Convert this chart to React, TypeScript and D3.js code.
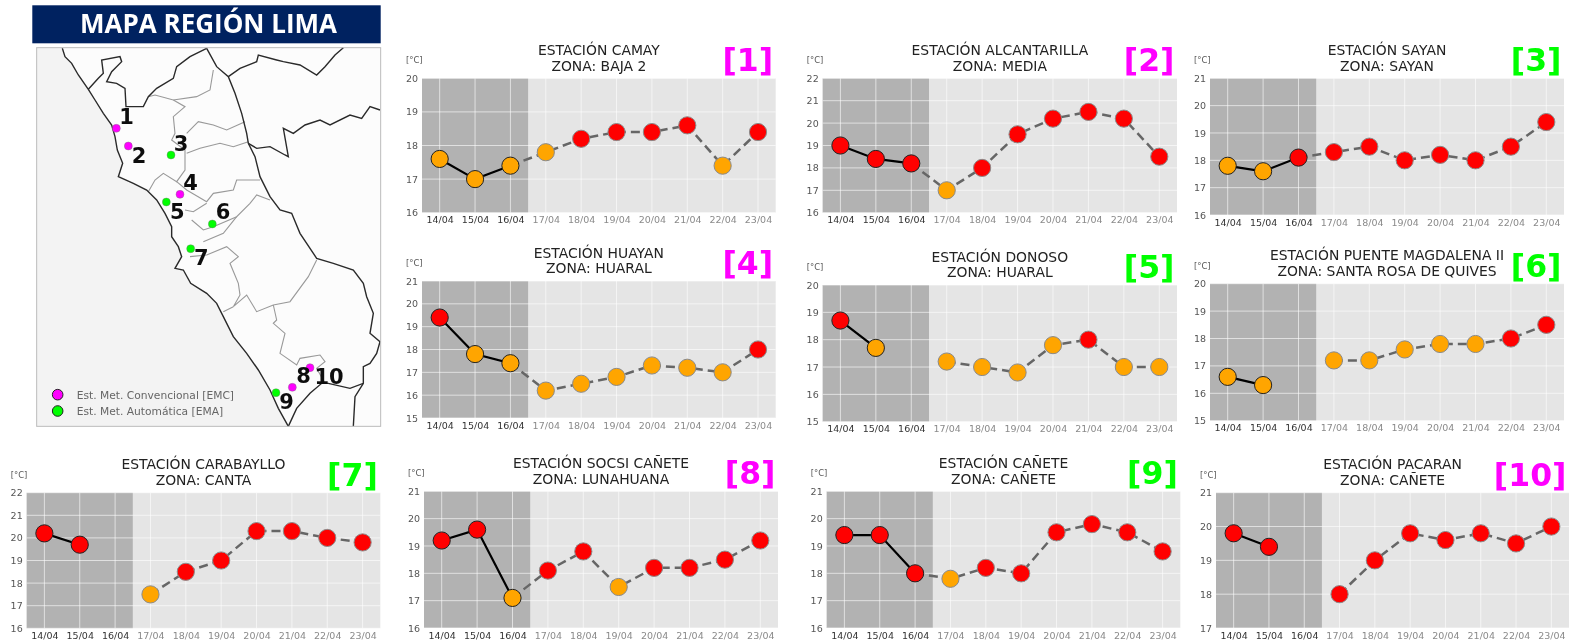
import React, { useRef, useEffect } from 'react';
import * as d3 from 'd3';

type Reading = number | null;
type Pt = [number, number];

const dates = ['14/04', '15/04', '16/04', '17/04', '18/04', '19/04', '20/04', '21/04', '22/04', '23/04'];

const stations = ['CAMAY', 'ALCANTARILLA', 'SAYAN', 'HUAYAN', 'DONOSO', 'PUENTE MAGDALENA II', 'CARABAYLLO', 'SOCSI CAÑETE', 'CAÑETE', 'PACARAN'];
const zones = ['BAJA 2', 'MEDIA', 'SAYAN', 'HUARAL', 'HUARAL', 'SANTA ROSA DE QUIVES', 'CANTA', 'LUNAHUANA', 'CAÑETE', 'CAÑETE'];
const stationTypes = ['EMC', 'EMC', 'EMA', 'EMC', 'EMA', 'EMA', 'EMA', 'EMC', 'EMA', 'EMC'];
const yMins = [16, 16, 16, 15, 15, 15, 16, 16, 16, 17];
const yMaxes = [20, 22, 21, 21, 20, 20, 22, 21, 21, 21];

const camay: Reading[] = [17.6, 17, 17.4, 17.8, 18.2, 18.4, 18.4, 18.6, 17.4, 18.4];
const alcantarilla: Reading[] = [19, 18.4, 18.2, 17, 18, 19.5, 20.2, 20.5, 20.2, 18.5];
const sayan: Reading[] = [17.8, 17.6, 18.1, 18.3, 18.5, 18, 18.2, 18, 18.5, 19.4];
const huayan: Reading[] = [19.4, 17.8, 17.4, 16.2, 16.5, 16.8, 17.3, 17.2, 17, 18];
const donoso: Reading[] = [18.7, 17.7, null, 17.2, 17, 16.8, 17.8, 18, 17, 17];
const puenteMagdalena: Reading[] = [16.6, 16.3, null, 17.2, 17.2, 17.6, 17.8, 17.8, 18, 18.5];
const carabayllo: Reading[] = [20.2, 19.7, null, 17.5, 18.5, 19, 20.3, 20.3, 20, 19.8];
const socsi: Reading[] = [19.2, 19.6, 17.1, 18.1, 18.8, 17.5, 18.2, 18.2, 18.5, 19.2];
const canete: Reading[] = [19.4, 19.4, 18, 17.8, 18.2, 18, 19.5, 19.8, 19.5, 18.8];
const pacaran: Reading[] = [19.8, 19.4, null, 18, 19, 19.8, 19.6, 19.8, 19.5, 20];
const readings = [camay, alcantarilla, sayan, huayan, donoso, puenteMagdalena, carabayllo, socsi, canete, pacaran];

// plot areas [left, top, right, bottom] of each panel
const panelBoxes = [
    [422, 78.3, 775.7, 212.7],
    [822.7, 78.3, 1177, 212.7],
    [1210, 78.3, 1564, 215],
    [422, 281, 775.7, 418],
    [822.7, 285, 1177, 421.7],
    [1210, 283.7, 1564, 420.7],
    [26.7, 492.7, 380.3, 628.3],
    [424, 491.3, 778, 628],
    [826.7, 491.3, 1180.3, 628],
    [1216, 492.7, 1569, 628],
];

// map outlines, traced in a 1200 wide map grid
const coast: Pt[] = [[187, 145], [195, 170], [215, 190], [235, 225], [265, 268], [285, 300], [310, 340], [335, 375], [345, 410], [352, 450], [368, 490], [355, 530], [400, 550], [440, 570], [470, 600], [495, 640], [515, 680], [515, 710], [535, 740], [545, 770], [525, 805], [550, 810], [572, 850], [620, 880], [650, 910], [670, 950], [700, 1010], [740, 1060], [775, 1110], [810, 1170], [835, 1225], [865, 1279]];
const regionEast: Pt[] = [[620, 145], [650, 200], [685, 230], [705, 280], [725, 340], [740, 400], [745, 430], [765, 470], [780, 530], [810, 590], [840, 630], [875, 640], [900, 700], [950, 775], [1000, 790], [1060, 810], [1090, 850], [1100, 890], [1120, 940], [1110, 1000], [1140, 1025], [1130, 1060], [1110, 1090], [1090, 1100], [1090, 1150], [1050, 1165], [985, 1150], [965, 1150], [930, 1180], [890, 1225], [865, 1279]];
const regionNorth: Pt[] = [[265, 268], [295, 235], [310, 220], [305, 180], [360, 170], [365, 185], [335, 215], [320, 245], [350, 250], [375, 265], [378, 320], [430, 320], [445, 290], [470, 265], [520, 235], [530, 200], [570, 170], [620, 145]];
const borderNorthEast: Pt[] = [[685, 230], [720, 205], [770, 185], [775, 165], [830, 180], [850, 185], [900, 195], [950, 225], [975, 200], [1005, 165], [1030, 143]];
const borderEast: Pt[] = [[745, 430], [770, 445], [810, 440], [855, 465], [865, 470], [850, 385], [880, 400], [915, 375], [960, 360], [990, 375], [1050, 345], [1085, 355], [1110, 320], [1140, 330]];
const borderSouth: Pt[] = [[1090, 1150], [1065, 1190], [1060, 1279]];
const provinces: Pt[][] = [
    [[640, 210], [630, 270], [590, 290], [520, 300], [465, 285], [445, 290]],
    [[520, 300], [555, 320], [520, 350], [525, 400], [515, 420], [555, 450], [555, 510], [530, 545], [490, 520], [465, 540], [445, 575]],
    [[560, 400], [595, 365], [640, 375], [680, 390], [735, 365]],
    [[560, 460], [600, 445], [660, 430], [700, 440], [745, 425]],
    [[530, 545], [560, 570], [620, 605], [640, 580], [700, 570], [710, 540], [780, 540]],
    [[555, 630], [580, 635], [620, 610]],
    [[575, 660], [610, 690], [640, 680], [710, 650], [750, 610], [770, 585], [810, 600]],
    [[610, 725], [670, 700], [710, 650]],
    [[570, 770], [620, 765], [680, 740], [715, 770], [690, 790], [715, 850], [720, 885], [700, 920], [740, 885], [770, 935], [820, 915], [870, 905], [925, 830], [950, 780]],
    [[670, 935], [700, 920]],
    [[820, 915], [830, 960], [820, 970], [855, 1000], [840, 1060], [890, 1095], [900, 1075], [960, 1065], [975, 1085], [950, 1105], [975, 1150]],
];
const stationSpots: Pt[] = [[349, 385], [385, 438], [513, 465], [540, 583], [499, 606], [637, 672], [572, 746], [877, 1162], [828, 1178], [930, 1103]];
const numberSpots: Pt[] = [[380, 350], [417, 465], [543, 430], [572, 548], [532, 635], [669, 635], [604, 772], [911, 1127], [860, 1203], [987, 1130]];
const legendLabels = ['Est. Met. Convencional [EMC]', 'Est. Met. Automática [EMA]'];
const legendTypes = ['EMC', 'EMA'];
const legendSpots: Pt[] = [[173, 1184], [173, 1233]];

const FONT = '"DejaVu Sans", sans-serif';
const MAGENTA = '#ff00ff';
const LIME = '#00ff00';
const typeColor = (t: string) => (t === 'EMC' ? MAGENTA : LIME);

function drawMap(svg: d3.Selection<any, unknown, null, undefined>) {
    const mx = d3.scaleLinear().domain([0, 1200]).range([0, 400]);
    const my = d3.scaleLinear().domain([0, 1200]).range([0, 400]);
    const line = d3.line<Pt>().x(d => mx(d[0])).y(d => my(d[1]));

    const g = svg.append('g');
    g.append('rect')
        .attr('x', mx(110)).attr('y', my(143))
        .attr('width', mx(1142) - mx(110)).attr('height', my(1279) - my(143))
        .attr('fill', '#fcfcfc');

    // sea
    const sea: Pt[] = [[110, 143], ...coast, [110, 1279]];
    g.append('path').attr('d', (line(sea) ?? '') + 'Z').attr('fill', '#f3f3f3');

    provinces.forEach(p => {
        g.append('path').attr('d', line(p) ?? '').attr('fill', 'none').attr('stroke', '#999').attr('stroke-width', 1.1);
    });
    [coast, regionEast, regionNorth, borderNorthEast, borderEast, borderSouth].forEach(p => {
        g.append('path').attr('d', line(p) ?? '').attr('fill', 'none').attr('stroke', '#2a2a2a').attr('stroke-width', 1.4);
    });

    g.append('rect')
        .attr('x', mx(110)).attr('y', my(143))
        .attr('width', mx(1142) - mx(110)).attr('height', my(1279) - my(143))
        .attr('fill', 'none').attr('stroke', '#bbb').attr('stroke-width', 1);

    g.selectAll('circle.station').data(stationSpots).join('circle')
        .attr('class', 'station')
        .attr('cx', d => mx(d[0])).attr('cy', d => my(d[1])).attr('r', 4)
        .attr('fill', (_, i) => typeColor(stationTypes[i]))
        .attr('stroke', '#777').attr('stroke-width', 0.4);

    g.selectAll('text.num').data(numberSpots).join('text')
        .attr('class', 'num')
        .attr('x', d => mx(d[0])).attr('y', d => my(d[1]))
        .attr('dy', '0.36em').attr('text-anchor', 'middle')
        .style('font', `bold 21px ${FONT}`).attr('fill', '#111')
        .text((_, i) => i + 1);

    legendLabels.forEach((label, i) => {
        g.append('circle')
            .attr('cx', mx(legendSpots[i][0])).attr('cy', my(legendSpots[i][1])).attr('r', 5.3)
            .attr('fill', typeColor(legendTypes[i])).attr('stroke', '#222').attr('stroke-width', 1);
        g.append('text')
            .attr('x', mx(230)).attr('y', my(legendSpots[i][1])).attr('dy', '0.36em')
            .style('font', `10.7px ${FONT}`).attr('fill', '#666')
            .text(label);
    });

    // banner
    g.append('rect').attr('x', 32.3).attr('y', 5.3).attr('width', 348.4).attr('height', 38).attr('fill', '#002060');
    g.append('text').attr('x', 208.5).attr('y', 33.3).attr('text-anchor', 'middle')
        .style('font', 'bold 26px "Open Sans", sans-serif').attr('fill', '#fff')
        .text('MAPA REGIÓN LIMA');
}

function drawPanel(svg: d3.Selection<any, unknown, null, undefined>, i: number) {
    const [left, top, right, bottom] = panelBoxes[i];
    const values = readings[i];
    const x = d3.scaleLinear().domain([-0.5, dates.length - 0.5]).range([left, right]);
    const y = d3.scaleLinear().domain([yMins[i], yMaxes[i]]).range([bottom, top]);
    const g = svg.append('g');

    g.append('rect').attr('x', left).attr('y', top).attr('width', right - left).attr('height', bottom - top).attr('fill', '#e5e5e5');
    g.append('rect').attr('x', left).attr('y', top).attr('width', x(2.5) - left).attr('height', bottom - top).attr('fill', '#b2b2b2');

    const yTicks = d3.range(yMins[i], yMaxes[i] + 1);
    g.append('g').selectAll('line').data(yTicks).join('line')
        .attr('x1', left).attr('x2', right).attr('y1', d => y(d)).attr('y2', d => y(d))
        .attr('stroke', '#fff').attr('stroke-opacity', 0.6).attr('stroke-width', 1);
    g.append('g').selectAll('line').data(dates).join('line')
        .attr('x1', (_, k) => x(k)).attr('x2', (_, k) => x(k)).attr('y1', top).attr('y2', bottom)
        .attr('stroke', '#fff').attr('stroke-opacity', 0.6).attr('stroke-width', 1);

    const xAxis = g.append('g')
        .attr('transform', `translate(0,${bottom})`)
        .call(d3.axisBottom(x).tickValues(d3.range(dates.length)).tickSize(0).tickPadding(4).tickFormat((_, k) => dates[k]));
    xAxis.select('.domain').remove();
    xAxis.selectAll('text')
        .style('font', `9.5px ${FONT}`)
        .attr('fill', (_, k) => (k < 3 ? '#333' : '#8a8a8a'));

    const yAxis = g.append('g')
        .attr('transform', `translate(${left},0)`)
        .call(d3.axisLeft(y).tickValues(yTicks).tickSize(0).tickPadding(4).tickFormat(d3.format('d')));
    yAxis.select('.domain').remove();
    yAxis.selectAll('text').style('font', `9.5px ${FONT}`).attr('fill', '#555');

    const line = d3.line<Reading>()
        .defined(d => d !== null)
        .x((_, k) => x(k))
        .y(d => y(d as number));

    // forecast part first, offset index so x stays right
    const forecastLine = d3.line<Reading>()
        .defined(d => d !== null)
        .x((_, k) => x(k + 2))
        .y(d => y(d as number));

    g.append('path')
        .attr('d', forecastLine(values.slice(2)) ?? '')
        .attr('fill', 'none').attr('stroke', '#666').attr('stroke-width', 2.5).attr('stroke-dasharray', '9,5');
    g.append('path')
        .attr('d', line(values.slice(0, 3)) ?? '')
        .attr('fill', 'none').attr('stroke', '#000').attr('stroke-width', 2.2);

    values.forEach((v, k) => {
        if (v === null) return;
        g.append('circle')
            .attr('cx', x(k)).attr('cy', y(v)).attr('r', 8.6)
            .attr('fill', v < 18 ? '#ffa500' : '#ff0000')
            .attr('stroke', k < 3 ? '#222' : '#8a8a8a').attr('stroke-width', 1);
    });

    const mid = (left + right) / 2;
    g.append('text').attr('x', mid).attr('y', top - 23.3).attr('text-anchor', 'middle')
        .style('font', `13.9px ${FONT}`).attr('fill', '#222').text(`ESTACIÓN ${stations[i]}`);
    g.append('text').attr('x', mid).attr('y', top - 7.6).attr('text-anchor', 'middle')
        .style('font', `13.9px ${FONT}`).attr('fill', '#222').text(`ZONA: ${zones[i]}`);
    g.append('text').attr('x', left - 16).attr('y', top - 15).style('font', `8.4px ${FONT}`).attr('fill', '#555').text('[°C]');
    g.append('text').attr('x', right - 2.5).attr('y', top - 7).attr('text-anchor', 'end')
        .style('font', `bold 31.5px ${FONT}`).attr('fill', typeColor(stationTypes[i])).text(`[${i + 1}]`);
}

function App(): React.ReactElement {
    const ref = useRef<SVGSVGElement | null>(null);

    useEffect(() => {
        if (!ref.current) return;
        const svg = d3.select(ref.current);
        svg.selectAll('*').remove();

        // the source is a soft, rescaled image
        svg.append('defs').append('filter').attr('id', 'soft')
            .attr('x', 0).attr('y', 0).attr('width', '100%').attr('height', '100%')
            .append('feGaussianBlur').attr('stdDeviation', 0.55);

        const root = svg.append('g').attr('filter', 'url(#soft)');
        root.append('rect').attr('width', 1569).attr('height', 640).attr('fill', '#fff');
        drawMap(root as any);
        readings.forEach((_, i) => drawPanel(root as any, i));
    }, []);

    return <svg ref={ref} width={1569} height={640} style={{ position: 'absolute', left: 0, top: 0, display: 'block' }} />;
}

export default App;
